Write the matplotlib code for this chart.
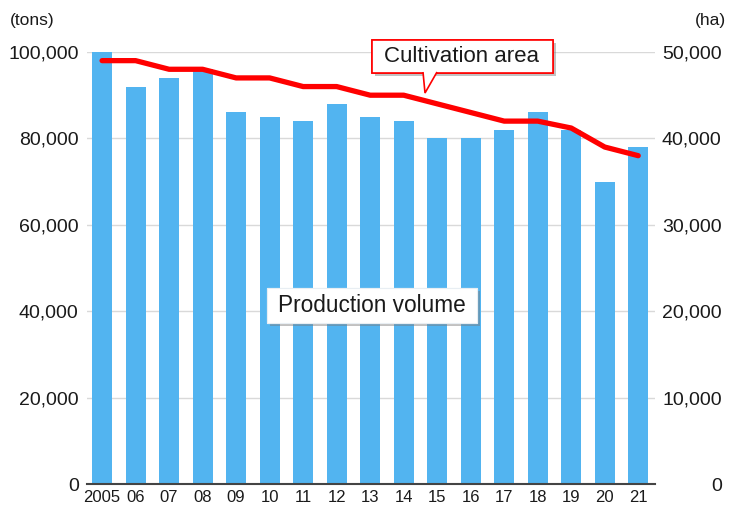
import matplotlib
matplotlib.use("Agg")
import matplotlib.pyplot as plt
import matplotlib.patheffects as pe
from matplotlib.patches import Rectangle, Polygon
import numpy as np

plt.rcParams["font.family"] = ["Liberation Sans", "DejaVu Sans"]

years = ["2005", "06", "07", "08", "09", "10", "11", "12", "13",
         "14", "15", "16", "17", "18", "19", "20", "21"]
production_tons = [100000, 92000, 94000, 96000, 86000, 85000, 84000, 88000, 85000,
                   84000, 80000, 80000, 82000, 86000, 82000, 70000, 78000]
area_ha = [49000, 49000, 48000, 48000, 47000, 47000, 46000, 46000, 45000,
           45000, 44000, 43000, 42000, 42000, 41200, 39000, 38000]
left_ticks = [0, 20000, 40000, 60000, 80000, 100000]
right_ticks = [0, 10000, 20000, 30000, 40000, 50000]

bar_color = "#52b4f0"
line_color = "#ff0000"
text_color = "#1a1a1a"

W, H = 731, 511


def fxy(px, py):
    # pixel position (from top-left) -> figure fraction
    return px / W, 1 - py / H


fig = plt.figure(figsize=(W / 100, H / 100), dpi=100)
ax = fig.add_axes([87 / W, 27 / H, (655 - 87) / W, (484 - 52) / H])
x = np.arange(len(years))

ax.bar(x, production_tons, width=0.6, color=bar_color, zorder=2)
ax.set_xlim(-0.45, 16.5)
ax.set_ylim(0, 100000)
ax.set_yticks(left_ticks)
ax.set_yticklabels([f"{v:,}" for v in left_ticks])
ax.set_xticks(x)
ax.set_xticklabels(years)
ax.grid(axis="y", color="#d9d9d9", linewidth=1)
ax.set_axisbelow(True)
for side in ["top", "left", "right"]:
    ax.spines[side].set_visible(False)
ax.spines["bottom"].set_color("#444444")
ax.spines["bottom"].set_linewidth(1.5)
ax.spines["bottom"].set_zorder(3)
ax.tick_params(axis="y", length=0, pad=6, labelsize=14, labelcolor=text_color)
ax.tick_params(axis="x", length=0, pad=4, labelsize=12, labelcolor=text_color)

ax2 = ax.twinx()
ax2.plot(x, area_ha, color=line_color, linewidth=3.8, solid_capstyle="round",
         solid_joinstyle="round", zorder=4)
ax2.set_ylim(0, 50000)
ax2.set_yticks(right_ticks)
ax2.set_yticklabels([f"{v:,}" for v in right_ticks])
ax2.tick_params(axis="y", length=0, pad=48, labelsize=14, labelcolor=text_color)
for lab in ax2.get_yticklabels():
    lab.set_ha("right")
for side in ["top", "left", "right", "bottom"]:
    ax2.spines[side].set_visible(False)

fig.text(*fxy(10, 20), "(tons)", fontsize=12.5, va="center", ha="left", color=text_color)
fig.text(*fxy(726, 20), "(ha)", fontsize=12.5, va="center", ha="right", color=text_color)

shadow = [pe.withSimplePatchShadow(offset=(2, -2), shadow_rgbFace="#777777", alpha=0.45),
          pe.Normal()]

# "Cultivation area" callout
box1 = Rectangle(fxy(372, 73), 181 / W, 33 / H, transform=fig.transFigure,
                 fc="white", ec=line_color, lw=1.2, zorder=10)
box1.set_path_effects(shadow)
fig.add_artist(box1)
tip = Polygon([fxy(423, 72), fxy(425, 93), fxy(437, 72)], closed=False,
              transform=fig.transFigure, fc="white", ec=line_color, lw=1.2, zorder=11)
fig.add_artist(tip)
fig.text(*fxy(461, 57), "Cultivation area", ha="center", va="center",
         fontsize=16, color=text_color, zorder=12)

# "Production volume" label
box2 = Rectangle(fxy(267, 323), 210 / W, 35 / H, transform=fig.transFigure,
                 fc="white", ec="#e8eef3", lw=0.8, zorder=10)
box2.set_path_effects(shadow)
fig.add_artist(box2)
fig.text(*fxy(372, 305), "Production volume", ha="center", va="center",
         fontsize=16.3, color=text_color, zorder=12)

fig.savefig("out.png", dpi=100)
